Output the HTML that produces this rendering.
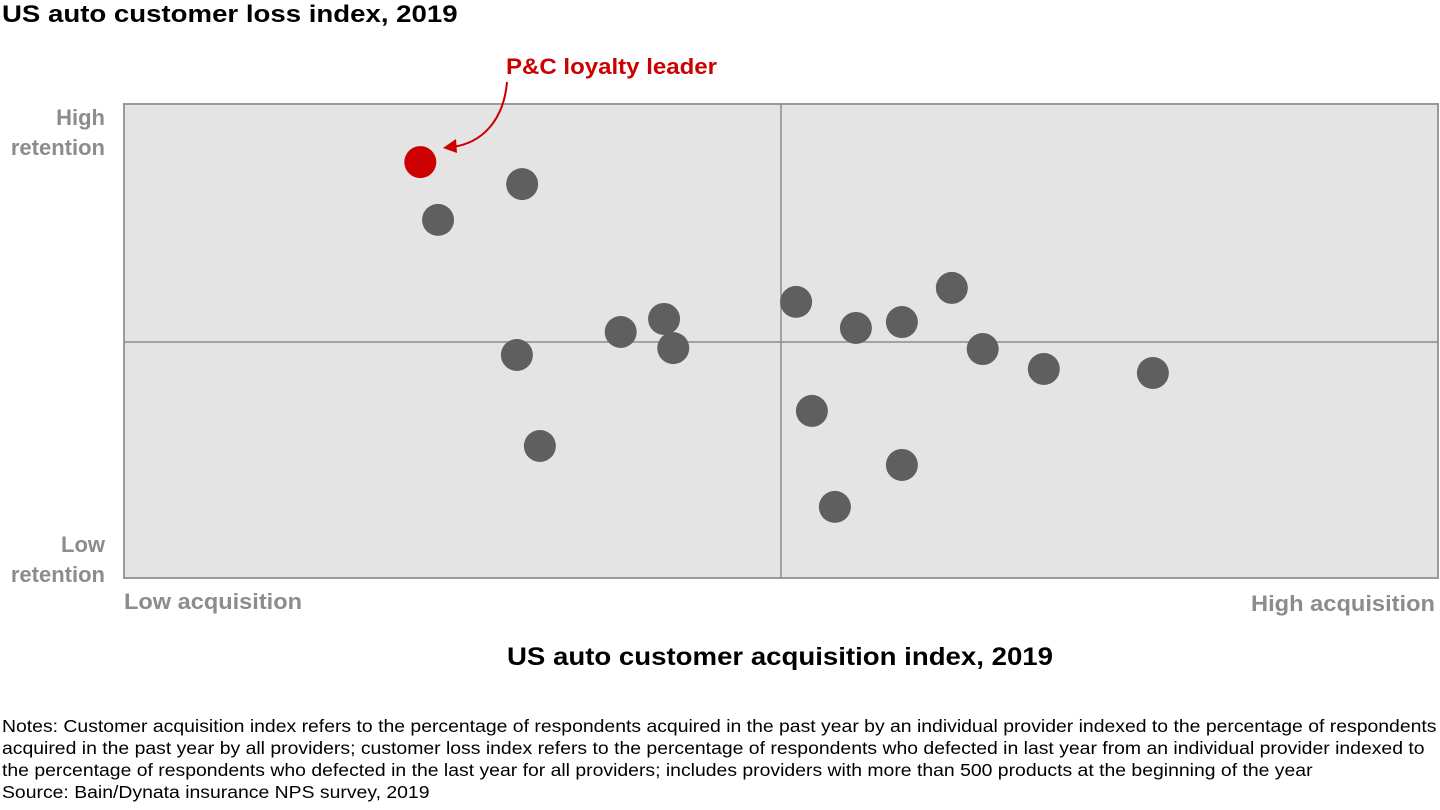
<!DOCTYPE html>
<html><head><meta charset="utf-8"><style>
body{margin:0;width:1440px;height:810px;background:#fff;font-family:"Liberation Sans",sans-serif;overflow:hidden;position:relative}
.t{position:absolute;white-space:nowrap;transform-origin:0 0}
</style></head><body>
<div class="t" style="left:2px;top:1px;font-size:24px;font-weight:bold;color:#000;transform:scaleX(1.15)">US auto customer loss index, 2019</div>
<svg width="1440" height="810" style="position:absolute;left:0;top:0">
<rect x="124" y="104" width="1314" height="474" fill="#e4e4e4" stroke="#9a9a9a" stroke-width="2"/>
<line x1="781" y1="104" x2="781" y2="578" stroke="#8c8c8c" stroke-width="1.5"/>
<line x1="124" y1="342" x2="1438" y2="342" stroke="#8c8c8c" stroke-width="1.5"/>
<g id="pts"></g>
<path d="M507 82 C504 118 484 143 452 147" fill="none" stroke="#cc0000" stroke-width="2"/>
<polygon points="443,148 456,139 457,153" fill="#cc0000"/>
<text x="506" y="74" font-size="22" font-weight="bold" fill="#cc0000" font-family="Liberation Sans" textLength="211" lengthAdjust="spacingAndGlyphs">P&amp;C loyalty leader</text>
<text x="105" y="125" text-anchor="end" font-size="22" font-weight="bold" fill="#8c8c8c" font-family="Liberation Sans"><tspan x="105">High</tspan><tspan x="105" dy="30">retention</tspan></text>
<text x="105" y="552" text-anchor="end" font-size="22" font-weight="bold" fill="#8c8c8c" font-family="Liberation Sans"><tspan x="105">Low</tspan><tspan x="105" dy="30">retention</tspan></text>
<text x="124" y="609" font-size="22" font-weight="bold" fill="#8c8c8c" font-family="Liberation Sans" textLength="178" lengthAdjust="spacingAndGlyphs">Low acquisition</text>
<text x="1251" y="611" font-size="22" font-weight="bold" fill="#8c8c8c" font-family="Liberation Sans" textLength="184" lengthAdjust="spacingAndGlyphs">High acquisition</text>
<text x="507" y="665" font-size="25" font-weight="bold" fill="#000" font-family="Liberation Sans" textLength="546" lengthAdjust="spacingAndGlyphs">US auto customer acquisition index, 2019</text>
</svg>
<div class="t" style="left:2px;top:715px;font-size:17.2px;line-height:22px;color:#000;transform:scaleX(1.128)">Notes: Customer acquisition index refers to the percentage of respondents acquired in the past year by an individual provider indexed to the percentage of respondents<br>acquired in the past year by all providers; customer loss index refers to the percentage of respondents who defected in last year from an individual provider indexed to<br>the percentage of respondents who defected in the last year for all providers; includes providers with more than 500 products at the beginning of the year<br>Source: Bain/Dynata insurance NPS survey, 2019</div>
<script>
const acquisition=[45.1,60.6,47.8,59.8,75.6,82.2,83.6,63.3,102.3,111.4,118.4,126.0,130.7,140.0,156.6,104.7,118.4,108.2];
const loss=[175.5,166.2,151.1,94.1,103.8,109.3,97.0,55.7,116.5,105.5,108.0,122.4,96.6,88.2,86.5,70.5,47.7,30.0];
const leader=[true,false,false,false,false,false,false,false,false,false,false,false,false,false,false,false,false,false];
const xs=v=>124+v/200*1314;
const ys=v=>578-v/200*474;
const g=document.getElementById('pts');
acquisition.forEach((a,i)=>{
  const c=document.createElementNS('http://www.w3.org/2000/svg','circle');
  c.setAttribute('cx',xs(a));c.setAttribute('cy',ys(loss[i]));c.setAttribute('r',16);
  c.setAttribute('fill',leader[i]?'#cc0000':'#5f5f5f');
  
  
  g.appendChild(c);
});
</script>
</body></html>
